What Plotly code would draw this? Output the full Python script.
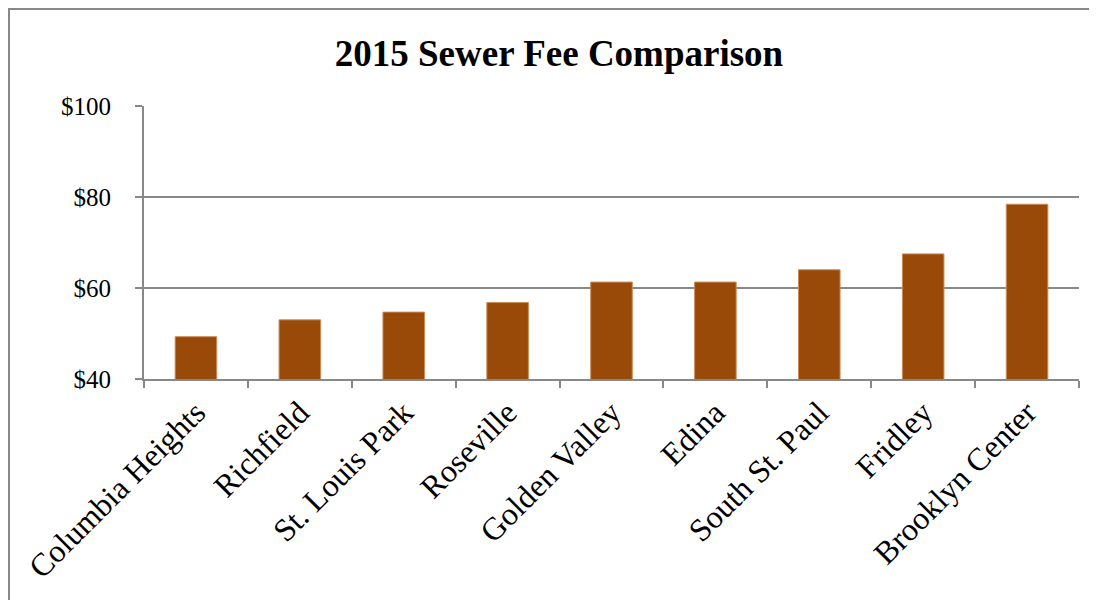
import plotly.graph_objects as go

cities = ["Columbia Heights", "Richfield", "St. Louis Park", "Roseville",
          "Golden Valley", "Edina", "South St. Paul", "Fridley", "Brooklyn Center"]
fees = [49.3, 53.0, 54.7, 56.8, 61.3, 61.3, 64.0, 67.5, 78.4]

y_ticks = [40, 60, 80, 100]
y_tick_text = ["$40", "$60", "$80", "$100"]

BAR = "#994A08"
GRID = "#888888"
FONT = "Liberation Serif, Times New Roman, serif"

fig = go.Figure(go.Bar(
    x=cities, y=fees,
    marker=dict(color=BAR, line=dict(color="#C98B5A", width=1)),
))

# page body adds an ~7px offset; compensate in the margins
OFF = 7
W, H = 1097, 600
ml, mr, mt, mb = 143 - OFF, 19 + OFF, 105 - OFF, 222 + OFF
pw, ph = W - ml - mr, H - mt - mb

fig.update_layout(
    width=W, height=H,
    margin=dict(l=ml, r=mr, t=mt, b=mb, pad=0),
    paper_bgcolor="white", plot_bgcolor="white",
    bargap=0.6,
    showlegend=False,
    title=dict(text="<b>2015 Sewer Fee Comparison</b>", x=(558 - OFF) / W, xanchor="center",
               y=1 - (52 - OFF) / H, yanchor="middle",
               font=dict(family=FONT, size=37, color="black")),
    font=dict(family=FONT, color="black"),
    xaxis=dict(
        type="category",
        tickangle=-45,
        tickfont=dict(family=FONT, size=32, color="black"),
        showline=True, linecolor=GRID, linewidth=2,
        ticks="outside", tickson="boundaries", ticklen=7, tickcolor=GRID, tickwidth=2,
        showgrid=False,
    ),
    yaxis=dict(
        range=[40, 100],
        tickvals=y_ticks, ticktext=y_tick_text,
        tickfont=dict(family=FONT, size=25, color="black"),
        ticklabelstandoff=19,
        showline=True, linecolor=GRID, linewidth=2,
        ticks="outside", ticklen=7, tickcolor=GRID, tickwidth=2,
        showgrid=True, gridcolor=GRID, gridwidth=2,
        zeroline=False,
    ),
    shapes=[dict(
        type="rect", xref="paper", yref="paper",
        x0=(8 - OFF - ml) / pw, x1=(W + 20 - ml) / pw,
        y0=-(H + 20 - mt - ph) / ph, y1=(H - mb - 8 + OFF) / ph,
        line=dict(color=GRID, width=2), fillcolor="rgba(0,0,0,0)", layer="below",
    )],
)

fig.write_html("out.html")
